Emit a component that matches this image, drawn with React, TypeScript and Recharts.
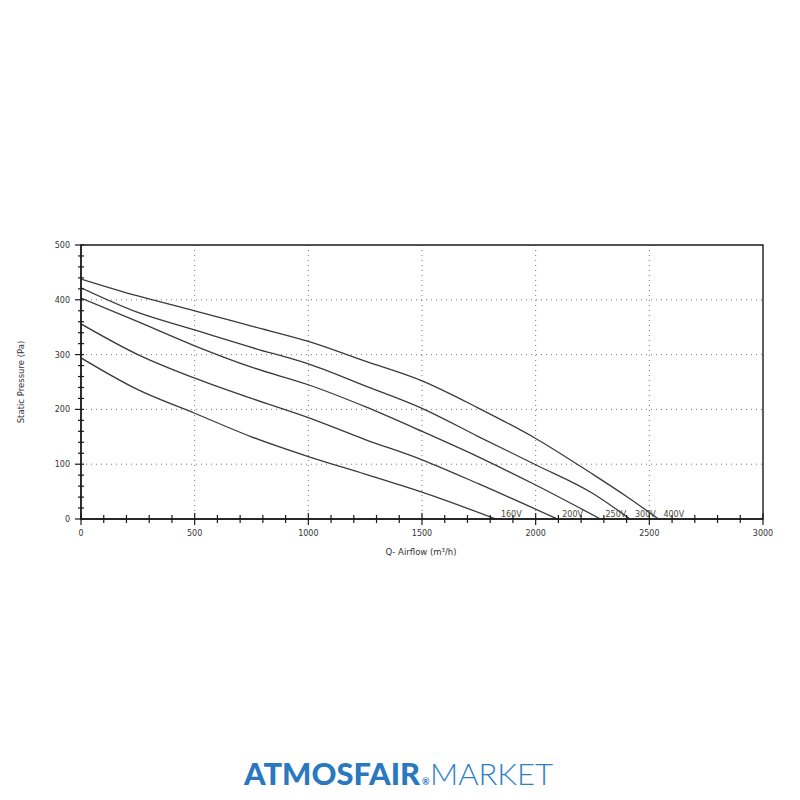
import React from 'react';
import { LineChart, Line, XAxis, YAxis, CartesianGrid, ReferenceArea, LabelList } from 'recharts';

// ---- data ----
const q400 = [0, 250, 500, 750, 1000, 1250, 1500, 1750, 2000, 2250, 2400, 2540];
const p400 = [438, 407, 380, 352, 324, 288, 252, 202, 147, 82, 41, 0];
const q300 = [0, 250, 500, 750, 1000, 1250, 1500, 1750, 2000, 2250, 2415];
const p300 = [422, 377, 345, 313, 283, 243, 202, 150, 99, 47, 0];
const q250 = [0, 250, 500, 750, 1000, 1250, 1500, 1750, 2000, 2285];
const p250 = [403, 360, 316, 277, 245, 205, 160, 113, 62, 0];
const q200 = [0, 250, 500, 750, 1000, 1250, 1500, 1750, 2095];
const p200 = [356, 300, 257, 220, 185, 145, 108, 64, 0];
const q160 = [0, 250, 500, 750, 1000, 1250, 1500, 1825];
const p160 = [294, 236, 193, 150, 114, 82, 49, 0];

const seriesNames = ['400V', '300V', '250V', '200V', '160V'];
const seriesQ = [q400, q300, q250, q200, q160];
const seriesP = [p400, p300, p250, p200, p160];

const xMajorTicks = [0, 500, 1000, 1500, 2000, 2500, 3000];
const yMajorTicks = [0, 100, 200, 300, 400, 500];
const xGrid = [500, 1000, 1500, 2000, 2500];
const yGrid = [100, 200, 300, 400];
const xMinorStep = 100;
const yMinorStep = 20;

const xTicks: number[] = [];
for (let v = 0; v <= 3000; v += xMinorStep) xTicks.push(v);
const yTicks: number[] = [];
for (let v = 0; v <= 500; v += yMinorStep) yTicks.push(v);

const series = seriesNames.map((name, i) => ({
  name,
  data: seriesQ[i].map((q, j) => ({ q, p: seriesP[i][j] })),
}));

const FONT = 'DejaVu Sans, Verdana, sans-serif';
const AXIS = '#1a1a1a';

const BottomTick = (props: any) => {
  const { x, y, payload } = props;
  const v = payload.value;
  const major = xMajorTicks.includes(v);
  const h = major ? 6 : 4;
  return (
    <g>
      <line x1={x} x2={x} y1={y - h} y2={y + h} stroke={AXIS} strokeWidth={1.2} />
      {major && (
        <text x={x} y={y + 17} textAnchor="middle" fontSize={8} fill="#333" fontFamily={FONT}>
          {v}
        </text>
      )}
    </g>
  );
};

const LeftTick = (props: any) => {
  const { x, y, payload } = props;
  const v = payload.value;
  const major = yMajorTicks.includes(v);
  return (
    <g>
      <line x1={x - (major ? 6 : 3)} x2={x + 3} y1={y} y2={y} stroke={AXIS} strokeWidth={1.2} />
      {major && (
        <text x={x - 11} y={y + 3} textAnchor="end" fontSize={8} fill="#333" fontFamily={FONT}>
          {v}
        </text>
      )}
    </g>
  );
};

const TopTick = (props: any) => {
  const { x, y } = props;
  return <line x1={x} x2={x} y1={y} y2={y + 4} stroke={AXIS} strokeWidth={1.1} />;
};

const RightTick = (props: any) => {
  const { x, y } = props;
  return <line x1={x - 4} x2={x} y1={y} y2={y} stroke={AXIS} strokeWidth={1.1} />;
};

const makeEndLabel = (name: string, last: number) => (props: any) => {
  const { x, y, index } = props;
  if (index !== last) return null;
  return (
    <text x={x + 5} y={y - 2} fontSize={8} fill="#4a4a3a" fontFamily={FONT}>
      {name}
    </text>
  );
};

export default function App() {
  return (
    <div style={{ position: 'relative', width: 792, height: 792 }}>
      <LineChart
        width={792}
        height={580}
        margin={{ top: 237, right: 37, bottom: 39, left: 33 }}
      >
        <CartesianGrid
          stroke="#777"
          strokeDasharray="1 4"
          strokeWidth={1}
          verticalValues={xGrid}
          horizontalValues={yGrid}
        />
        <XAxis
          dataKey="q"
          type="number"
          domain={[0, 3000]}
          ticks={xTicks}
          interval={0}
          allowDataOverflow
          axisLine={{ stroke: AXIS, strokeWidth: 1.6 }}
          tickLine={false}
          tickSize={0}
          tickMargin={0}
          tick={<BottomTick />}
          height={30}
        />
        <XAxis
          xAxisId="top"
          orientation="top"
          dataKey="q"
          type="number"
          domain={[0, 3000]}
          ticks={xTicks}
          interval={0}
          allowDataOverflow
          axisLine={false}
          tickLine={false}
          tickSize={0}
          tickMargin={0}
          tick={<TopTick />}
          height={0}
        />
        <YAxis
          type="number"
          domain={[0, 500]}
          ticks={yTicks}
          interval={0}
          allowDataOverflow
          axisLine={{ stroke: AXIS, strokeWidth: 1.4 }}
          tickLine={false}
          tickSize={0}
          tickMargin={0}
          tick={<LeftTick />}
          width={40}
        />
        <YAxis
          yAxisId="right"
          orientation="right"
          type="number"
          domain={[0, 500]}
          ticks={yTicks}
          interval={0}
          allowDataOverflow
          axisLine={false}
          tickLine={false}
          tickSize={0}
          tickMargin={0}
          tick={<RightTick />}
          width={0}
        />
        <ReferenceArea x1={0} x2={3000} y1={0} y2={500} fill="none" stroke={AXIS} strokeWidth={1.4} ifOverflow="visible" />
        {series.map((s) => (
          <Line
            key={s.name}
            data={s.data}
            dataKey="p"
            type="monotone"
            stroke="#3a3a3a"
            strokeWidth={1.3}
            dot={false}
            activeDot={false}
            isAnimationActive={false}
          >
            <LabelList dataKey="p" content={makeEndLabel(s.name, s.data.length - 1)} />
          </Line>
        ))}
      </LineChart>
      <svg
        width={792}
        height={792}
        style={{ position: 'absolute', left: 0, top: 0, pointerEvents: 'none' }}
      >
        <text
          x={0}
          y={0}
          transform="translate(16 374) rotate(-90)"
          textAnchor="middle"
          fontSize={8.5}
          fill="#333"
          fontFamily={FONT}
        >
          Static Pressure (Pa)
        </text>
        <text x={413} y={547} textAnchor="middle" fontSize={8.5} fill="#333" fontFamily={FONT}>
          Q- Airflow (m³/h)
        </text>
        <text
          x={236}
          y={777}
          fontSize={30}
          fontWeight={900}
          fill="#2a78c0"
          fontFamily="Lato, Open Sans, sans-serif"
          textLength={176}
          lengthAdjust="spacingAndGlyphs"
        >
          ATMOSFAIR
        </text>
        <text x={414} y={777} fontSize={9} fontWeight={700} fill="#2a78c0" fontFamily="Lato, Open Sans, sans-serif">
          ®
        </text>
        <text
          x={422}
          y={777}
          fontSize={30}
          fontWeight={300}
          fill="#2f7fc4"
          fontFamily="Lato, Open Sans, sans-serif"
          textLength={123}
          lengthAdjust="spacingAndGlyphs"
        >
          MARKET
        </text>
      </svg>
    </div>
  );
}
